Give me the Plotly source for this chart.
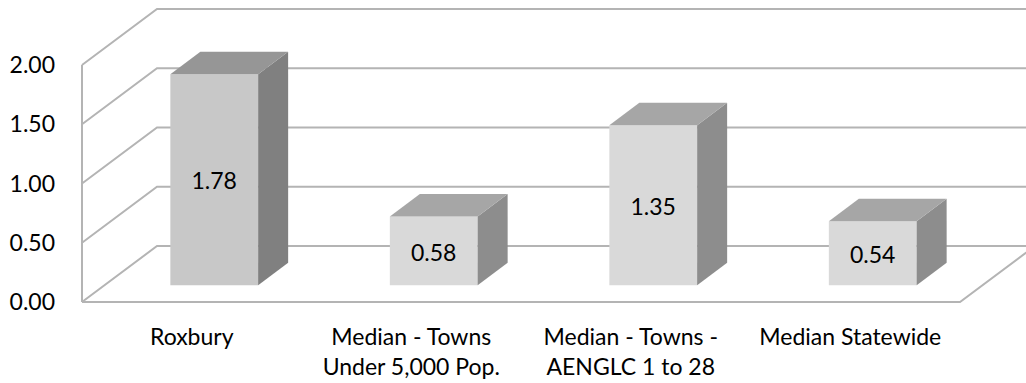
import plotly.graph_objects as go

# ---- data ----
categories = ["Roxbury", "Median - Towns<br>Under 5,000 Pop.", "Median - Towns -<br>AENGLC 1 to 28", "Median Statewide"]
values = [1.78, 0.58, 1.35, 0.54]
value_labels = ["1.78", "0.58", "1.35", "0.54"]
y_ticks = [0.0, 0.5, 1.0, 1.5, 2.0]
y_tick_labels = ["0.00", "0.50", "1.00", "1.50", "2.00"]

# ---- styling / geometry ----
front_colors = ["#c8c8c8", "#d9d9d9", "#d9d9d9", "#d9d9d9"]
side_colors = ["#808080", "#8d8d8d", "#8d8d8d", "#8d8d8d"]
top_colors = ["#969696", "#a6a6a6", "#a6a6a6", "#a6a6a6"]
grid_color = "#b4b4b4"
FONT = "Lato"
FS = 23

W_PX = 219.5      # px per category
S_PX = 118.5      # px per value unit
DX = 75 / W_PX    # depth offset in category units
DY = 56 / S_PX    # depth offset in value units
D0, D1 = 0.30, 0.70   # bar depth span
BW = 0.40             # bar width (category units)
LABEL_NUDGE = 4 / S_PX

FIG_W, FIG_H = 1026, 383
ML, MR, MT, MB = 76, 0, 0, 73
plot_w = FIG_W - ML - MR
plot_h = FIG_H - MT - MB
x0 = -0.5 - (82 - ML) / W_PX
x_range = [x0, x0 + plot_w / W_PX]
y0 = -(MT + plot_h - 302) / S_PX
y_range = [y0, y0 + plot_h / S_PX]

n = len(categories)
xl_wall = -0.5
xr_wall = n - 0.5

fig = go.Figure()

# gridlines (left wall diagonal + back wall horizontal)
gx, gy = [], []
for v in y_ticks:
    gx += [xl_wall, xl_wall + DX, xr_wall + DX + 1, None]
    gy += [v, v + DY, v + DY, None]
# floor front edge and right diagonal
gx += [xl_wall, xr_wall, xr_wall + DX, None]
gy += [0, 0, DY, None]
# left wall front vertical edge
gx += [xl_wall, xl_wall, None]
gy += [0, y_ticks[-1], None]
fig.add_trace(go.Scatter(x=gx, y=gy, mode="lines",
                         line=dict(color=grid_color, width=2),
                         hoverinfo="skip", showlegend=False))

# 3D bars: front, side and top faces
xs_front = [i + D0 * DX for i in range(n)]
ddx = (D1 - D0) * DX
b = D0 * DY
for i, v in enumerate(values):
    xl = xs_front[i] - BW / 2
    xr = xs_front[i] + BW / 2
    fig.add_trace(go.Scatter(
        x=[xl, xr, xr, xl, xl],
        y=[b, b, v + b, v + b, b],
        fill="toself", fillcolor=front_colors[i], mode="lines",
        line=dict(width=0), hoverinfo="skip", showlegend=False))
    fig.add_trace(go.Scatter(
        x=[xr, xr, xr + ddx, xr + ddx, xr],
        y=[b, v + b, v + D1 * DY, D1 * DY, b],
        fill="toself", fillcolor=side_colors[i], mode="lines",
        line=dict(width=0), hoverinfo="skip", showlegend=False))
    fig.add_trace(go.Scatter(
        x=[xl, xr, xr + ddx, xl + ddx, xl],
        y=[v + b, v + b, v + D1 * DY, v + D1 * DY, v + b],
        fill="toself", fillcolor=top_colors[i], mode="lines",
        line=dict(width=0), hoverinfo="skip", showlegend=False))

# value labels centered on front faces
fig.add_trace(go.Scatter(
    x=xs_front, y=[v / 2 + b - LABEL_NUDGE for v in values], mode="text",
    text=value_labels, textposition="middle center",
    textfont=dict(family=FONT, size=FS, color="black"),
    hoverinfo="skip", showlegend=False))

fig.update_layout(
    width=FIG_W, height=FIG_H, autosize=False,
    margin=dict(l=ML, r=MR, t=MT, b=MB, pad=0),
    paper_bgcolor="white", plot_bgcolor="white",
    font=dict(family=FONT, size=FS, color="black"),
    xaxis=dict(range=x_range, tickvals=list(range(n)), ticktext=categories,
               showgrid=False, zeroline=False, showline=False, ticks="",
               ticklabelstandoff=11, fixedrange=True),
    yaxis=dict(range=y_range, tickvals=y_ticks, ticktext=y_tick_labels,
               showgrid=False, zeroline=False, showline=False, ticks="",
               ticklabelstandoff=20, fixedrange=True),
)

fig.write_html("out.html")
